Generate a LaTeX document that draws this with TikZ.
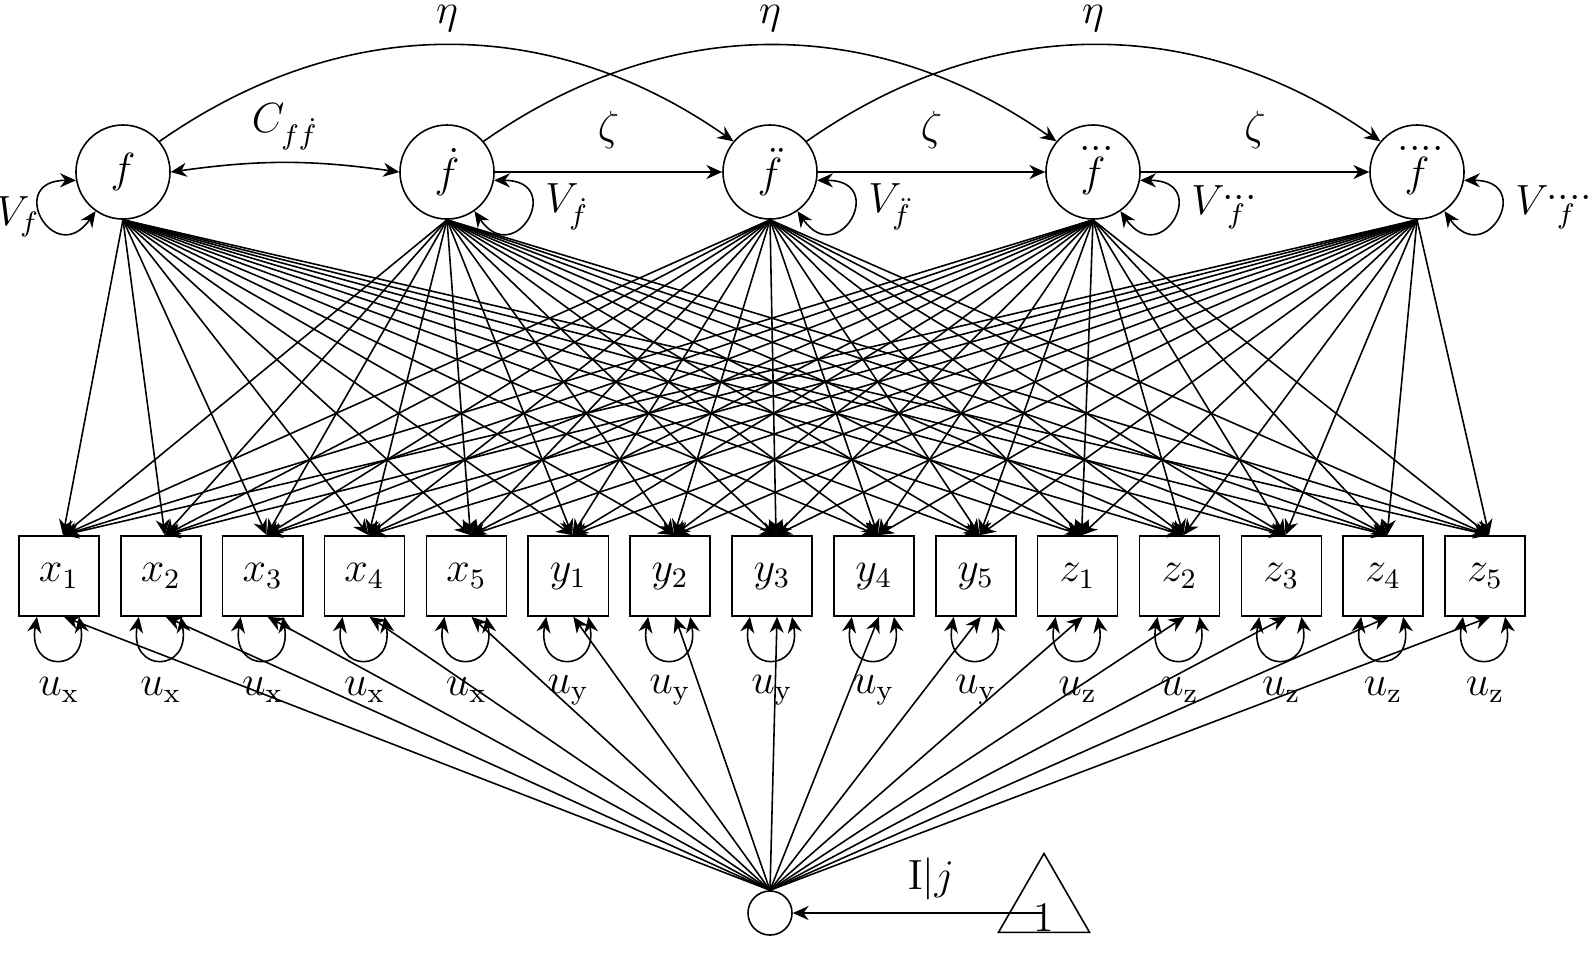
\documentclass[tikz,border=0pt]{standalone}
\usepackage{amsmath}
\usetikzlibrary{arrows.meta,shapes.geometric}
\begin{document}
\begin{tikzpicture}[x=0.01cm,y=-0.01cm,line width=0.45pt,font=\large,
  lat/.style={circle,draw,minimum size=0.94cm,inner sep=0},
  obs/.style={rectangle,draw,minimum size=0.8cm,inner sep=0},
  arr/.style={-{Stealth[length=4.5pt,width=4pt]}},
  darr/.style={{Stealth[length=4.5pt,width=4pt]}-{Stealth[length=4.5pt,width=4pt]}}]
\useasboundingbox (0,0) rectangle (1594,953);
\node[lat] (L1) at (123,172) {$f$};
\node[lat] (L2) at (447,172) {$\dot f$};
\node[lat] (L3) at (770,172) {$\ddot f$};
\node[lat] (L4) at (1093,172) {$\dddot f$};
\node[lat] (L5) at (1417,172) {$\ddddot f$};
\foreach \v [count=\i] in {x,y,z}{
  \foreach \k in {1,...,5}{
    \pgfmathsetmacro\xx{59+101.86*((\i-1)*5+\k-1)}
    \node[obs] (\v\k) at (\xx,576) {$\v_\k$};
    \node (u\v\k) at (\xx,690) {$u_{\mathrm{\v}}$};
    \draw[darr] ([xshift=-0.22cm]\v\k.south) to[out=-100,in=-80,looseness=3.5] ([xshift=0.2cm]\v\k.south);
  }}
\node[circle,draw,minimum size=0.44cm,inner sep=0] (c) at (770,913) {};
\node[regular polygon,regular polygon sides=3,draw,minimum size=1.05cm,inner sep=0] (t) at (1044,906) {};
\node at (1044,917) {1};
\draw[arr] (c -| t.side 2) -- (c) node[pos=0.45,above=0pt] {$\mathrm{I}|j$};
\foreach \v in {x,y,z}{\foreach \k in {1,...,5}{
  \draw[arr] (c.north) -- ([xshift=0.05cm]\v\k.south);
  \foreach \l in {1,...,5}{\draw[arr] (L\l.south) -- ([xshift=0.04cm]\v\k.north);}
}}
\draw[darr] (L1.east) to[bend left=8] node[above=0pt] {$C_{f\dot f}$} (L2.west);
\draw[arr] (L2.east) -- node[above=3pt] {$\zeta$} (L3.west);
\draw[arr] (L3.east) -- node[above=3pt] {$\zeta$} (L4.west);
\draw[arr] (L4.east) -- node[above=3pt] {$\zeta$} (L5.west);
\draw[arr] (L1.40) to[out=35,in=145] (L3.140);
\draw[arr] (L2.40) to[out=35,in=145] (L4.140);
\draw[arr] (L3.40) to[out=35,in=145] (L5.140);
\node at (447,19) {$\eta$};
\node at (770,19) {$\eta$};
\node at (1093,19) {$\eta$};
\draw[darr] (L1.190) to[out=180,in=235,looseness=5] (L1.235);
\node at (18,217) {$V_f$};
\foreach \l/\lab in {2/{V_{\dot f}},3/{V_{\ddot f}},4/{V_{\dddot f}},5/{V_{\ddddot f}}}{
  \draw[darr] (L\l.-10) to[out=0,in=-55,looseness=5] (L\l.-55);
  \node[anchor=west] at ([xshift=0.38cm,yshift=-0.35cm]L\l.east) {$\lab$};
}
\end{tikzpicture}
\end{document}
